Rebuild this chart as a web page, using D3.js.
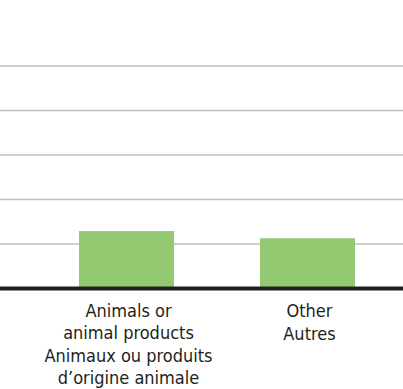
<!DOCTYPE html>
<html>
<head>
<meta charset="utf-8">
<script src="https://cdn.jsdelivr.net/npm/d3@7"></script>
<style>
  body { margin: 0; background: #fff; }
  svg { display: block; }
  .lbl { font-family: "Liberation Sans Narrow", "DejaVu Sans Condensed", "Roboto", sans-serif; font-size: 18px; fill: #231f20; }
</style>
</head>
<body>
<div id="chart"></div>
<script>
// data
var categories = ["Animals", "Other"];
var values = [1.29, 1.13];
var gridTicks = [1, 2, 3, 4, 5];
var labelsEn = [["Animals or", "animal products"], ["Other"]];
var labelsFr = [["Animaux ou produits", "d\u2019origine animale"], ["Autres"]];

var width = 403, height = 389;

var svg = d3.select("#chart").append("svg")
    .attr("width", width)
    .attr("height", height);

var y = d3.scaleLinear().domain([0, 5]).range([288.5, 66]);

var x = d3.scaleBand()
    .domain(categories)
    .range([0, 434])
    .paddingInner(0.475)
    .paddingOuter(0.4365);

// gridlines
svg.append("g").selectAll("line")
  .data(gridTicks)
  .enter().append("line")
  .attr("x1", 0)
  .attr("x2", width)
  .attr("y1", function(d) { return y(d); })
  .attr("y2", function(d) { return y(d); })
  .style("stroke", "#c0c0c0")
  .style("stroke-width", 1.6);

// bars
svg.append("g").selectAll("rect")
  .data(values)
  .enter().append("rect")
  .attr("x", function(d, i) { return x(categories[i]); })
  .attr("width", x.bandwidth())
  .attr("y", function(d) { return y(d); })
  .attr("height", function(d) { return y(0) - y(d); })
  .style("fill", "#93c971");

// baseline
svg.append("line")
  .attr("x1", 0).attr("x2", width)
  .attr("y1", y(0)).attr("y2", y(0))
  .style("stroke", "#231f20")
  .style("stroke-width", 4);

// category labels
categories.forEach(function(c, i) {
  var cx = x(c) + x.bandwidth() / 2 + 2;
  var g = svg.append("g");
  labelsEn[i].forEach(function(t, j) {
    g.append("text").attr("class", "lbl")
      .attr("x", cx).attr("y", 317 + j * 22)
      .attr("text-anchor", "middle").text(t);
  });
  var start = i === 0 ? 362 : 340;
  labelsFr[i].forEach(function(t, j) {
    g.append("text").attr("class", "lbl")
      .attr("x", cx).attr("y", start + j * 22)
      .attr("text-anchor", "middle").text(t);
  });
});
</script>
</body>
</html>
